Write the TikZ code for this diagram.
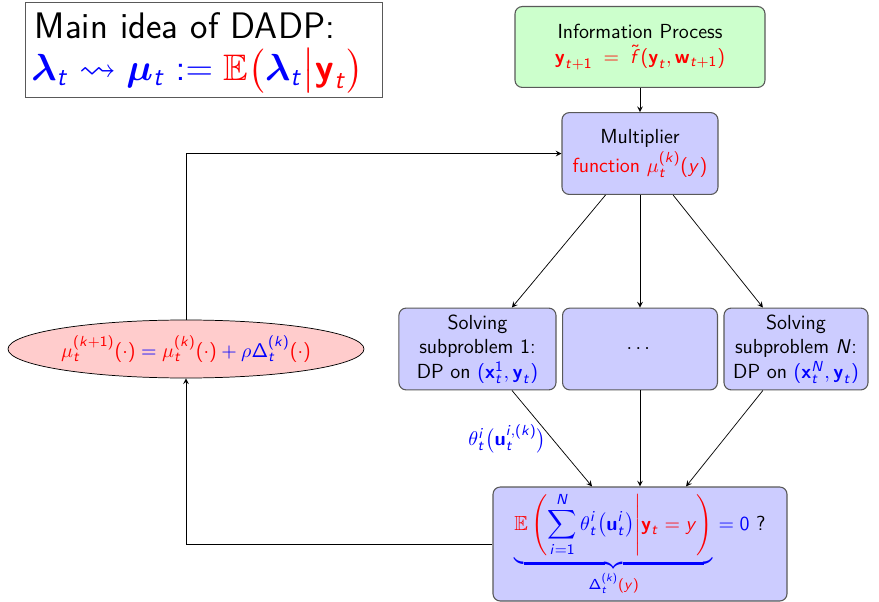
\documentclass[tikz,border=0pt]{standalone}
\usepackage{amsmath,amssymb,bm}
\usetikzlibrary{shapes.geometric, arrows}
\renewcommand{\familydefault}{\sfdefault}

% sans serif letters and digits in math, Greek stays as it is
\DeclareSymbolFont{sfletters}{OT1}{cmss}{m}{sl}
\SetSymbolFont{sfletters}{bold}{OT1}{cmss}{bx}{n}
\SetSymbolFont{operators}{normal}{OT1}{cmss}{m}{n}
\SetSymbolFont{operators}{bold}{OT1}{cmss}{bx}{n}
\makeatletter
\@tempcnta=97
\loop
  \mathcode\@tempcnta=\numexpr"7000+\symsfletters*"100+\@tempcnta\relax
  \advance\@tempcnta\@ne
\ifnum\@tempcnta<123 \repeat
\@tempcnta=65
\loop
  \mathcode\@tempcnta=\numexpr"7000+\symsfletters*"100+\@tempcnta\relax
  \advance\@tempcnta\@ne
\ifnum\@tempcnta<91 \repeat
\makeatother

\tikzstyle{block} = [rectangle, rounded corners=4pt, text centered, align=center, draw=black!65, line width=0.6pt, font=\fontsize{11.2}{13.6}\selectfont]
\tikzstyle{infobox} = [block, fill=green!20, minimum width=137.5pt, minimum height=44.5pt]
\tikzstyle{process} = [block, fill=blue!20, minimum height=45pt]
\tikzstyle{update} = [ellipse, fill=red!20, draw=black, minimum width=195.8pt, minimum height=31.9pt, inner sep=0pt, font=\fontsize{11.2}{13.6}\selectfont]
\tikzstyle{arrow} = [->,>=stealth, black]

\begin{document}
\begin{tikzpicture}[node distance=107.5pt]
\useasboundingbox (-352pt,25.85pt) rectangle (131.45pt,-305.25pt);

\node (info) [infobox] at (0,0) {Information Process\\[0.5pt]
  \color{red}$\bm y_{t+1} \;=\; \tilde f(\bm y_t, \bm w_{t+1})$};
\node (mult) [process, below of=info, yshift=48.9pt, minimum width=85.8pt] {Multiplier\\[1pt]
  \color{red}function $\mu_t^{(k)}(y)$};
\node (dots) [process, below of=mult, minimum width=85.2pt] {$\cdots$};
\node (solve1) [process, left of=dots, xshift=18.1pt, minimum width=86.4pt] {Solving\\
  subproblem 1:\\ DP on \color{blue}$(\bm x_t^1, \bm y_t)$};
\node (solveN) [process, right of=dots, xshift=-21.7pt, minimum width=79.2pt] {Solving\\
  subproblem $N$:\\ DP on \color{blue}$(\bm x_t^N, \bm y_t)$};
\node (test) [process, below of=dots, yshift=0.25pt, minimum width=161.7pt, minimum height=62.7pt, inner ysep=2pt] {%
  $\color{blue}\underbrace{\color{red}\mathbb{E}\left(\color{blue}\displaystyle\sum_{i=1}^{N} \theta_t^i\bigl(\bm u_t^i\bigr)
  \color{red}\middle| \bm y_t = y\right)}_{\Delta_t^{(k)}\color{red}(y)} \color{blue}= 0$ ?};
\node (loop) [update, left of=dots, xshift=-142.2pt] {%
  $\color{red}\mu_t^{(k+1)}(\cdot) \color{blue}= \color{red}\mu_t^{(k)}(\cdot) \color{blue}+ \rho\Delta_t^{(k)}\color{red}(\cdot)$};
\node (title) [rectangle, draw=black!65, align=left, inner xsep=3pt, inner ysep=1pt, text width=190pt, minimum height=52.25pt,
  left of=info, xshift=-132.3pt, yshift=-1.4pt, font=\fontsize{20.3}{22}\selectfont] {%
  \rule{0pt}{18pt}\hspace*{2pt}Main idea of DADP:\\[1pt]
  $\color{blue}\bm\lambda_t \rightsquigarrow \bm\mu_t := \color{red}\mathbb{E}\bigl(\color{blue}\bm\lambda_t\color{red}\big|\bm y_t\bigr)$};

\draw [arrow] (info) -- (mult);
\draw [arrow] (mult) -- (solve1);
\draw [arrow] (mult) -- (dots);
\draw [arrow] (mult) -- (solveN);
\draw [arrow] (solve1) -- node[midway, left, inner sep=3pt, font=\fontsize{11.2}{13.6}\selectfont]{\color{blue}$\theta_t^i\bigl(\bm u_t^{i,(k)}\bigr)$} (test);
\draw [arrow] (dots) -- (test);
\draw [arrow] (solveN) -- (test);

% fixed point loop on the multiplier
\draw [arrow] (test.west) -| (loop.south);
\draw [arrow] (loop.north) |- (mult.west);
\end{tikzpicture}
\end{document}
